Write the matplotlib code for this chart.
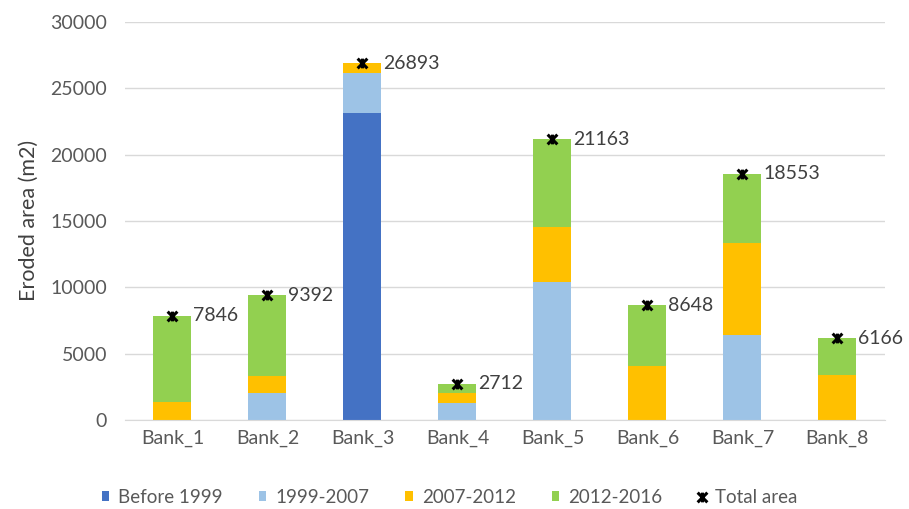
import numpy as np
import matplotlib.pyplot as plt
from matplotlib.path import Path

banks = ["Bank_1", "Bank_2", "Bank_3", "Bank_4", "Bank_5", "Bank_6", "Bank_7", "Bank_8"]
before_1999 = [0, 0, 23150, 0, 0, 0, 0, 0]
p1999_2007 = [0, 2015, 2970, 1300, 10370, 0, 6420, 0]
p2007_2012 = [1340, 1305, 773, 715, 4150, 4100, 6920, 3400]
total_area = [7846, 9392, 26893, 2712, 21163, 8648, 18553, 6166]

series_names = ["Before 1999", "1999-2007", "2007-2012", "2012-2016"]
colors = ["#4472C4", "#9DC3E6", "#FFC000", "#92D050"]
TEXT_GREY = "#595959"

plt.rcParams['font.family'] = ['Lato', 'DejaVu Sans']

# Excel-style star marker: an X with a vertical stroke through it
star = Path([(-1, -1), (1, 1), (-1, 1), (1, -1), (0, -1), (0, 1)],
            [Path.MOVETO, Path.LINETO, Path.MOVETO, Path.LINETO, Path.MOVETO, Path.LINETO])

# last period is whatever is left up to the total
p2012_2016 = [t - a - b - c for t, a, b, c in zip(total_area, before_1999, p1999_2007, p2007_2012)]
layers = [before_1999, p1999_2007, p2007_2012, p2012_2016]

fig = plt.figure(figsize=(9.09, 5.09), dpi=100)
ax = fig.add_axes([0.1375, 0.175, 0.836, 0.782])

x = np.arange(len(banks))
bottom = np.zeros(len(banks))
handles = []
for vals, name, col in zip(layers, series_names, colors):
    bars = ax.bar(x, vals, bottom=bottom, width=0.4, color=col, label=name, zorder=2)
    handles.append(bars)
    bottom += np.array(vals)

line, = ax.plot(x, total_area, linestyle='none', marker=star, markersize=7,
                markeredgewidth=2.2, color='black', label="Total area", zorder=3)
handles.append(line)

for xi, t in zip(x, total_area):
    ax.annotate(f"{t}", (xi, t), xytext=(15, 0), textcoords='offset points',
                ha='left', va='center', fontsize=14, color='#404040')

ax.set_ylim(0, 30000)
ax.set_yticks(range(0, 30001, 5000))
ax.set_xlim(-0.5, len(banks) - 0.5)
ax.set_xticks(x)
ax.set_xticklabels(banks)
ax.tick_params(axis='y', length=0, labelsize=14, colors=TEXT_GREY, pad=13)
ax.tick_params(axis='x', length=0, labelsize=14, colors=TEXT_GREY, pad=7)
ax.set_ylabel("Eroded area (m2)", fontsize=15.5, color='#404040', labelpad=8)

ax.yaxis.grid(True, color='#D9D9D9', linewidth=1)
ax.set_axisbelow(True)
for side in ['top', 'right', 'left']:
    ax.spines[side].set_visible(False)
ax.spines['bottom'].set_color('#D9D9D9')

ax.legend(handles=handles, loc='center', bbox_to_anchor=(0.427, -0.194), ncol=5,
          frameon=False, fontsize=13.5, labelcolor=TEXT_GREY, handlelength=0.4,
          handleheight=0.4, handletextpad=0.5, columnspacing=1.9)

plt.savefig("out.png", dpi=100)
